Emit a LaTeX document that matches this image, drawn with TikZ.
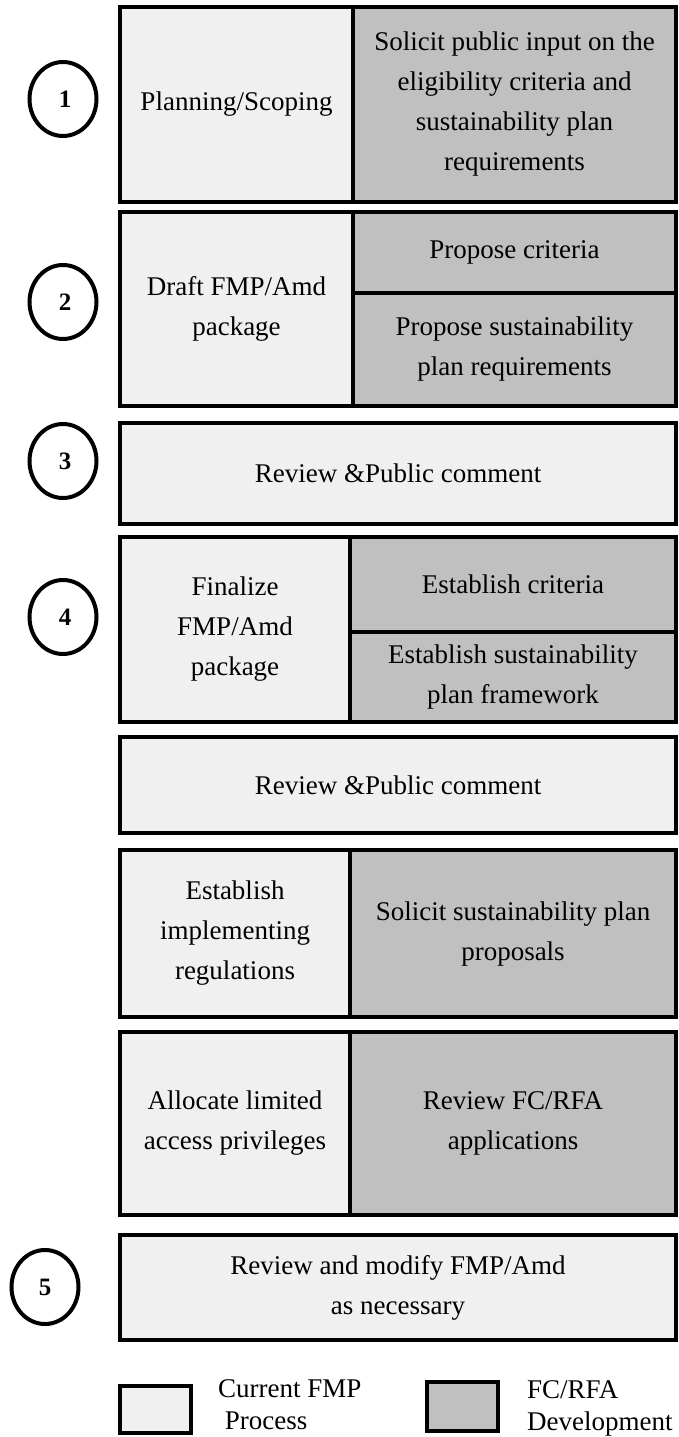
\documentclass[tikz,border=0pt]{standalone}
\usepackage{fontspec}
\setmainfont{Liberation Serif}
\usetikzlibrary{shapes.geometric}
\definecolor{curfill}{RGB}{240,240,240}
\definecolor{devfill}{RGB}{192,192,192}
\tikzset{
  cell/.style={draw, line width=4pt, inner sep=0pt, align=center,
    font=\fontsize{27}{40}\selectfont},
  curcell/.style={cell, fill=curfill},
  devcell/.style={cell, fill=devfill},
  stepnum/.style={draw, ellipse, line width=4pt, inner sep=0pt,
    minimum width=67pt, minimum height=74pt,
    font=\bfseries\fontsize{25}{25}\selectfont},
  legendtext/.style={anchor=west, align=left, inner sep=0pt,
    font=\fontsize{27}{32}\selectfont},
}
\begin{document}
\begin{tikzpicture}[x=1pt, y=-1pt]
  \useasboundingbox (0,0) rectangle (679,1437);
  % row 1
  \node[curcell, minimum width=233pt, minimum height=195pt] (plan) at (236.5,104.5) {Planning/Scoping};
  \node[devcell, minimum width=323pt, minimum height=195pt] (solicit) at (514.5,104.5) {Solicit public input on the\\eligibility criteria and\\sustainability plan\\requirements};
  % row 2
  \node[curcell, minimum width=233pt, minimum height=194pt] (draft) at (236.5,309) {Draft FMP/Amd\\package};
  \node[devcell, minimum width=323pt, minimum height=81pt] (propcrit) at (514.5,252.5) {Propose criteria};
  \node[devcell, minimum width=323pt, minimum height=113pt] (propsust) at (514.5,349.5) {Propose sustainability\\plan requirements};
  % row 3
  \node[curcell, minimum width=556pt, minimum height=101pt] (review1) at (398,473.5) {Review \&Public comment};
  % row 4
  \node[curcell, minimum width=230pt, minimum height=185pt] (final) at (235,629.5) {Finalize\\FMP/Amd\\package};
  \node[devcell, minimum width=326pt, minimum height=95pt] (estcrit) at (513,584.5) {Establish criteria};
  \node[devcell, minimum width=326pt, minimum height=90pt] (estsust) at (513,677) {Establish sustainability\\plan framework};
  % row 5
  \node[curcell, minimum width=556pt, minimum height=96pt] (review2) at (398,785) {Review \&Public comment};
  % row 6
  \node[curcell, minimum width=230pt, minimum height=167pt] (regs) at (235,933.5) {Establish\\implementing\\regulations};
  \node[devcell, minimum width=326pt, minimum height=167pt] (proposals) at (513,933.5) {Solicit sustainability plan\\proposals};
  % row 7
  \node[curcell, minimum width=230pt, minimum height=183pt] (alloc) at (235,1123.5) {Allocate limited\\access privileges};
  \node[devcell, minimum width=326pt, minimum height=183pt] (apps) at (513,1123.5) {Review FC/RFA\\applications};
  % row 8
  \node[curcell, minimum width=556pt, minimum height=105pt] (modify) at (398,1287.5) {Review and modify FMP/Amd\\as necessary};
  % step numbers
  \node[stepnum] (s1) at (63,99) {\hspace{4pt}1};
  \node[stepnum] (s2) at (63,302) {\hspace{4pt}2};
  \node[stepnum] (s3) at (63,461) {\hspace{4pt}3};
  \node[stepnum] (s4) at (63,617) {\hspace{4pt}4};
  \node[stepnum] (s5) at (45,1287) {5};
  % legend
  \node[curcell, minimum width=71pt, minimum height=47pt] (keycur) at (155.5,1409.5) {};
  \node[legendtext] (keycurtext) at (218,1405) {Current FMP\\\ Process};
  \node[devcell, minimum width=71pt, minimum height=49pt] (keydev) at (462.5,1406.5) {};
  \node[legendtext] (keydevtext) at (527,1408) {FC/RFA\\Development};
\end{tikzpicture}
\end{document}
